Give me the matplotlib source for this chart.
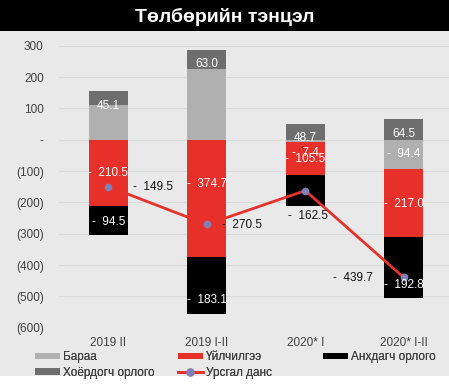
import matplotlib
matplotlib.use("Agg")
import matplotlib.pyplot as plt
from matplotlib.patches import Rectangle, Patch
from matplotlib.lines import Line2D
import numpy as np

plt.rcParams['font.family'] = ['Liberation Sans', 'DejaVu Sans']

# ---- data ----
categories = ["2019 II", "2019 I-II", "2020* I", "2020* I-II"]
baraa = [110.4, 224.3, -7.4, -94.4]          # Бараа
uilchilgee = [-210.5, -374.7, -105.5, -217.0]  # Үйлчилгээ
anhdagch = [-94.5, -183.1, -98.3, -192.8]     # Анхдагч орлого
hoyordogch = [45.1, 63.0, 48.7, 64.5]         # Хоёрдогч орлого
ursgal = [-149.5, -270.5, -162.5, -439.7]     # Урсгал данс
yticks = [300, 200, 100, 0, -100, -200, -300, -400, -500, -600]

series_names = ["Бараа", "Үйлчилгээ", "Анхдагч орлого", "Хоёрдогч орлого"]
series_vals = [baraa, uilchilgee, anhdagch, hoyordogch]
series_colors = ["#b0b0b0", "#e8302a", "#000000", "#6e6e6e"]

# label placement (data y of each label; None = not shown)
label_y = [
    [None, None, -42, -46],
    [-106, -140, -61, -205],
    [-264, -513, None, -465],
    [108, 242, 4, 18],
]
ca_label_x = [0.45, 1.36, 2.03, 2.48]
ca_label_y = [-152, -271, -242, -440]

W, H = 449, 390
fig = plt.figure(figsize=(W / 100, H / 100), dpi=100)
fig.patch.set_facecolor("white")
# background panels
fig.add_artist(Rectangle((0, 14 / H), 1, 1 - 14 / H, transform=fig.transFigure,
                         facecolor="#e9e9e9", edgecolor="none", zorder=-10))
fig.add_artist(Rectangle((0, (H - 31) / H), 1, 31 / H, transform=fig.transFigure,
                         facecolor="#000000", edgecolor="none", zorder=-9))
fig.text(0.5, (H - 16.5) / H, "Төлбөрийн тэнцэл", color="white", fontsize=14,
         fontweight="bold", ha="center", va="center")

ax = fig.add_axes([59 / W, (H - 327.7) / H, 394 / W, 282 / H])
ax.set_facecolor("none")
x = np.arange(len(categories))
width = 0.4

pos_base = np.zeros(len(categories))
neg_base = np.zeros(len(categories))
handles = {}
for name, vals, col, ly in zip(series_names, series_vals, series_colors, label_y):
    vals = np.array(vals)
    bottoms = np.where(vals >= 0, pos_base, neg_base)
    ax.bar(x, vals, width, bottom=bottoms, color=col, zorder=3, linewidth=0)
    handles[name] = Patch(facecolor=col, edgecolor="none")
    for i, v in enumerate(vals):
        if ly[i] is not None:
            txt = f"{v:.1f}" if v >= 0 else f"-  {abs(v):.1f}"
            ax.text(x[i], ly[i], txt, color="white", fontsize=8.5, ha="center",
                    va="center", zorder=6)
    pos_base = np.where(vals >= 0, pos_base + vals, pos_base)
    neg_base = np.where(vals < 0, neg_base + vals, neg_base)

ax.plot(x, ursgal, color="#e5332a", lw=2.0, zorder=4)
ax.plot(x, ursgal, linestyle="none", marker="o", markersize=4.5,
        markerfacecolor="#7b80c0", markeredgecolor="#8a7fb0", zorder=5)
for i, v in enumerate(ursgal):
    ax.text(ca_label_x[i], ca_label_y[i], f"-  {abs(v):.1f}", color="#111111",
            fontsize=8.5, ha="center", va="center", zorder=6)

ax.set_xlim(-0.5, 3.5)
ax.set_ylim(-600, 300)
ax.set_yticks(yticks)
ax.set_yticklabels(["-" if t == 0 else (f"({abs(t)})" if t < 0 else f"{t}") for t in yticks])
ax.set_xticks(x)
ax.set_xticklabels(categories)
ax.tick_params(axis="both", length=0, labelsize=8.5, colors="#404040")
ax.tick_params(axis="y", pad=11)
ax.tick_params(axis="x", pad=7)
ax.grid(axis="y", color="#dadada", lw=0.8, zorder=0)
for s in ax.spines.values():
    s.set_visible(False)

line_handle = Line2D([], [], color="#e5332a", lw=2.0, marker="o", markersize=5,
                     markerfacecolor="#7b80c0", markeredgecolor="#8a7fb0")

leg_kw = dict(frameon=False, fontsize=8.5, handlelength=2.1, handleheight=0.45,
              handletextpad=0.3, labelspacing=0.3, borderpad=0, borderaxespad=0,
              labelcolor="#404040")
cols = [
    (35, [handles["Бараа"], handles["Хоёрдогч орлого"]], ["Бараа", "Хоёрдогч орлого"]),
    (178, [handles["Үйлчилгээ"], line_handle], ["Үйлчилгээ", "Урсгал данс"]),
    (323, [handles["Анхдагч орлого"]], ["Анхдагч орлого"]),
]
for px, hs, ls in cols:
    lg = fig.legend(hs, ls, loc="upper left", bbox_to_anchor=(px / W, (H - 351) / H),
                    **leg_kw)
    fig.add_artist(lg)

fig.savefig("out.png", dpi=100, facecolor=fig.get_facecolor())
